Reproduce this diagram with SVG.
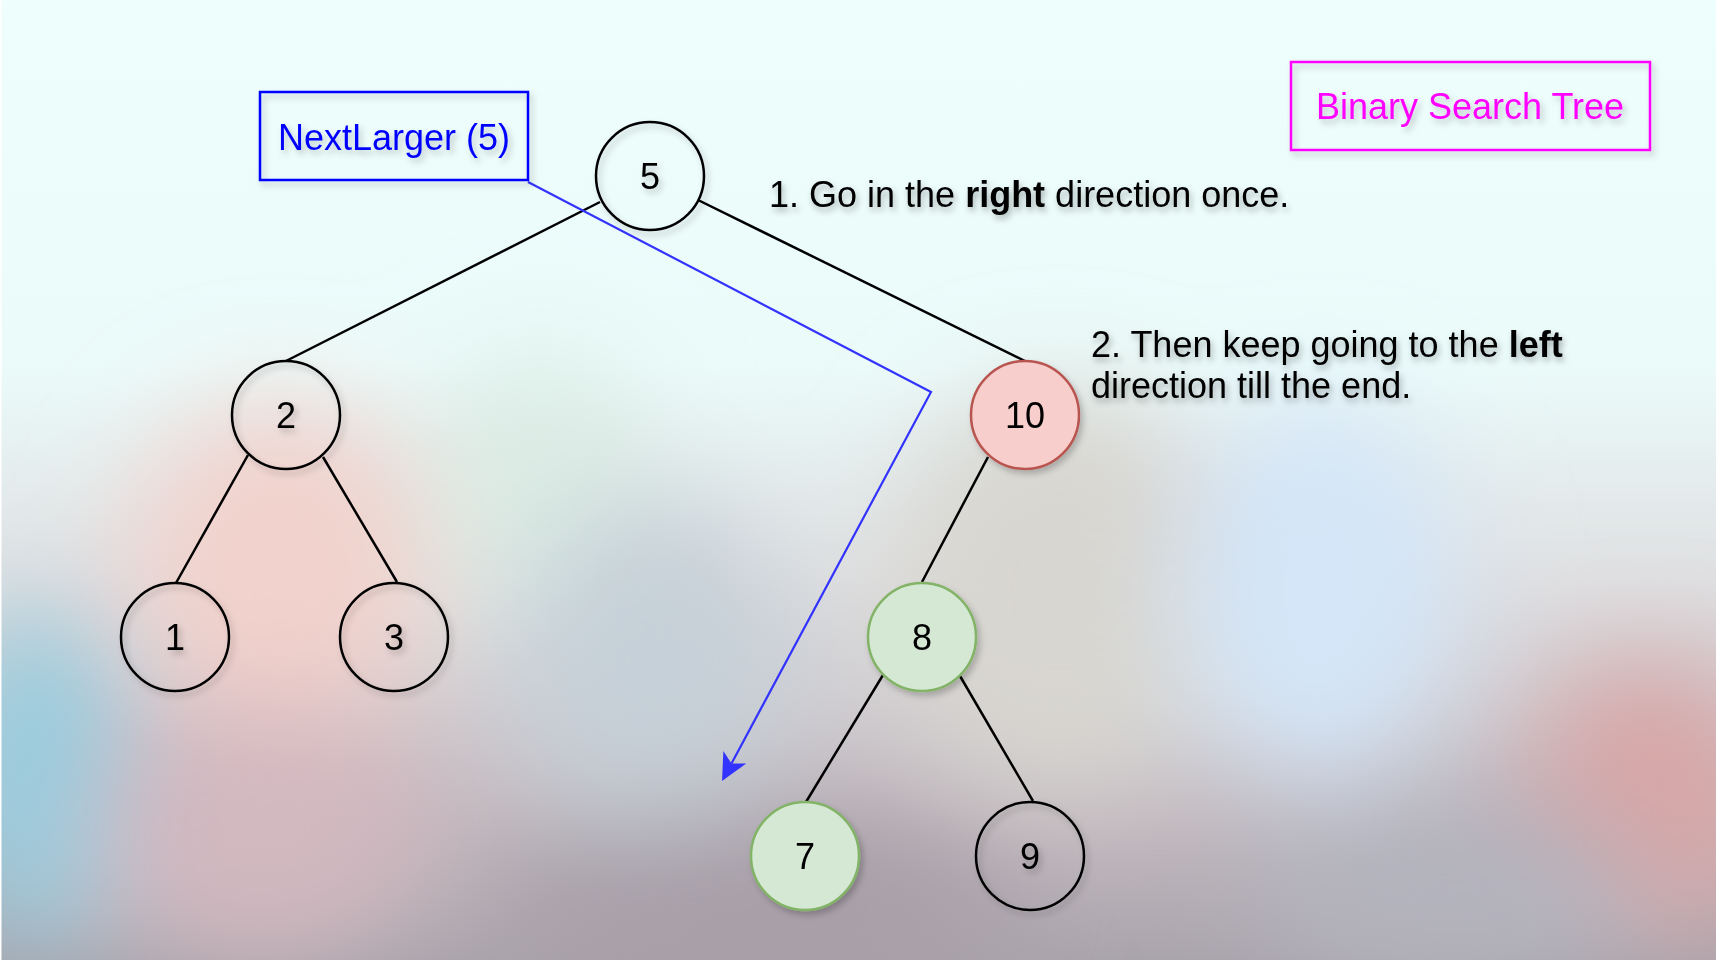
<svg xmlns="http://www.w3.org/2000/svg" width="1716" height="960" viewBox="0 0 1716 960">
<style>
.node{fill:none;stroke:#000;stroke-width:2.5}
.lbl{font-family:"Liberation Sans",Arial,Helvetica,sans-serif;font-size:36px;fill:#000;text-anchor:middle}
.txt{font-family:"Liberation Sans",Arial,Helvetica,sans-serif;font-size:36px;fill:#000}
.edge{fill:none;stroke:#000;stroke-width:2.5}
.blue{fill:none;stroke:#3333ff;stroke-width:2.2}
</style>
<defs>
<linearGradient id="bg" x1="0" y1="0" x2="0" y2="1">
<stop offset="0" stop-color="#eefefd"/>
<stop offset="0.38" stop-color="#ebfbfa"/>
<stop offset="0.6" stop-color="#dfe0e2"/>
<stop offset="0.85" stop-color="#c2b9bf"/>
<stop offset="1" stop-color="#aaa4ac"/>
</linearGradient>
<filter id="blur" x="-50%" y="-50%" width="200%" height="200%"><feGaussianBlur stdDeviation="55"/></filter>
<filter id="sh" x="-20%" y="-20%" width="150%" height="150%"><feDropShadow dx="3" dy="4" stdDeviation="3" flood-color="#000" flood-opacity="0.22"/></filter>
<filter id="tsh" x="-10%" y="-30%" width="120%" height="180%"><feDropShadow dx="2" dy="4" stdDeviation="3" flood-color="#000" flood-opacity="0.3"/></filter>
<marker id="arr" markerUnits="userSpaceOnUse" markerWidth="40" markerHeight="40" viewBox="-10 -20 40 40" refX="0" refY="0" orient="auto" overflow="visible">
<path d="M20,0 L-7,-13 L0,0 L-7,13 Z" fill="#3333ff"/>
</marker>
</defs>
<rect width="1716" height="960" fill="url(#bg)"/>
<g filter="url(#blur)">
<ellipse cx="40" cy="780" rx="90" ry="170" fill="#95cde0"/>
<ellipse cx="280" cy="570" rx="150" ry="170" fill="#f2d2cc"/>
<ellipse cx="260" cy="830" rx="170" ry="130" fill="#d2b8bf"/>
<ellipse cx="540" cy="490" rx="110" ry="140" fill="#dcece4"/>
<ellipse cx="650" cy="660" rx="140" ry="160" fill="#c6d0d8"/>
<ellipse cx="760" cy="910" rx="260" ry="90" fill="#a79ea7"/>
<ellipse cx="1060" cy="590" rx="170" ry="200" fill="#d8d6d0"/>
<ellipse cx="1320" cy="590" rx="140" ry="190" fill="#d4e6f8"/>
<ellipse cx="1650" cy="800" rx="120" ry="140" fill="#d9a6a6"/>
<ellipse cx="1450" cy="890" rx="200" ry="90" fill="#b3b4be"/>
</g>
<rect x="0" y="0" width="1.5" height="960" fill="#ffffff"/>
<g id="connectors">
<line class="edge" x1="600" y1="202" x2="286" y2="361"/>
<line class="edge" x1="698" y1="200" x2="1025" y2="361"/>
<line class="edge" x1="248" y1="455" x2="176" y2="583"/>
<line class="edge" x1="323" y1="457" x2="397" y2="582"/>
<line class="edge" x1="988" y1="457" x2="922" y2="582"/>
<line class="edge" x1="883" y1="675" x2="806" y2="802"/>
<line class="edge" x1="960" y1="676" x2="1033" y2="801"/>
<polyline class="blue" points="528,182 931,392 731.5,763.4" marker-end="url(#arr)"/>
</g>
<g id="node-5" filter="url(#sh)"><circle class="node" cx="650" cy="176" r="54"/><text class="lbl" x="650" y="189">5</text></g>
<g id="node-2" filter="url(#sh)"><circle class="node" cx="286" cy="415" r="54"/><text class="lbl" x="286" y="428">2</text></g>
<g id="node-10" filter="url(#sh)"><circle cx="1025" cy="415" r="54" fill="#f8cecc" stroke="#b85450" stroke-width="2.5"/><text class="lbl" x="1025" y="428">10</text></g>
<g id="node-1" filter="url(#sh)"><circle class="node" cx="175" cy="637" r="54"/><text class="lbl" x="175" y="650">1</text></g>
<g id="node-3" filter="url(#sh)"><circle class="node" cx="394" cy="637" r="54"/><text class="lbl" x="394" y="650">3</text></g>
<g id="node-8" filter="url(#sh)"><circle cx="922" cy="637" r="54" fill="#d5e8d4" stroke="#82b366" stroke-width="2.5"/><text class="lbl" x="922" y="650">8</text></g>
<g id="node-7" filter="url(#sh)"><circle cx="805" cy="856" r="54" fill="#d5e8d4" stroke="#82b366" stroke-width="2.5"/><text class="lbl" x="805" y="869">7</text></g>
<g id="node-9" filter="url(#sh)"><circle class="node" cx="1030" cy="856" r="54"/><text class="lbl" x="1030" y="869">9</text></g>
<g id="nextlarger" filter="url(#sh)"><rect x="260" y="92" width="268" height="88" fill="none" stroke="#0000ff" stroke-width="2.5"/><text class="lbl" x="394" y="150" style="fill:#0000ff">NextLarger (5)</text></g>
<g id="title" filter="url(#sh)"><rect x="1291" y="62" width="359" height="88" fill="none" stroke="#ff00ff" stroke-width="2.5"/><text class="lbl" x="1470" y="119" style="fill:#ff00ff">Binary Search Tree</text></g>
<g id="step1" filter="url(#tsh)"><text class="txt" x="769" y="207">1. Go in the <tspan font-weight="bold">right</tspan> direction once.</text></g>
<g id="step2" filter="url(#tsh)"><text class="txt" x="1091" y="357">2. Then keep going to the <tspan font-weight="bold">left</tspan></text><text class="txt" x="1091" y="398">direction till the end.</text></g>
</svg>
